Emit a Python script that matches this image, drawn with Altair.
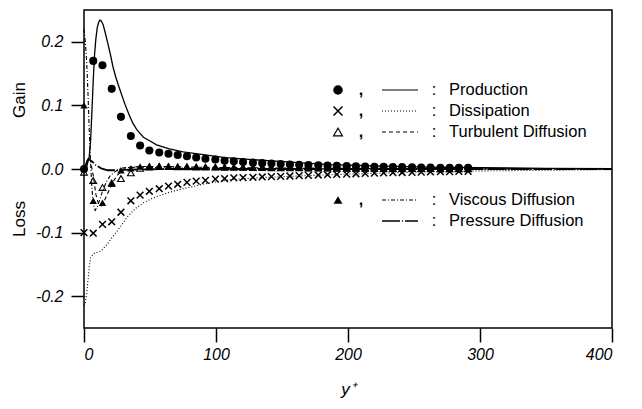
import altair as alt
import pandas as pd

# ---------------- data ----------------
marker_yplus = [0, 7, 14, 21, 28, 35.5, 42.5, 49.5, 57, 64, 71, 78, 85, 92, 99.5, 106.5,
                113.5, 120.5, 128, 135, 142, 149, 156, 163, 170, 177.5, 184.5, 191.5, 199,
                206, 213, 220, 227, 234, 241, 248.5, 255.5, 262.5, 270, 277, 284, 291]

production_pts = [0.0, 0.170, 0.163, 0.126, 0.082, 0.052, 0.037, 0.029, 0.026, 0.024, 0.022,
                  0.020, 0.018, 0.016, 0.015, 0.013, 0.012, 0.011, 0.010, 0.0092, 0.0085,
                  0.0078, 0.0072, 0.0067, 0.0062, 0.0057, 0.0053, 0.0049, 0.0045, 0.0042,
                  0.0039, 0.0036, 0.0033, 0.0031, 0.0029, 0.0027, 0.0025, 0.0023, 0.0021,
                  0.0020, 0.0019, 0.0018]
dissipation_pts = [-0.100, -0.101, -0.087, -0.083, -0.068, -0.050, -0.041, -0.035, -0.031,
                   -0.027, -0.024, -0.021, -0.019, -0.018, -0.016, -0.015, -0.014, -0.0135,
                   -0.013, -0.0125, -0.012, -0.0115, -0.011, -0.0105, -0.010, -0.0095, -0.009,
                   -0.0085, -0.008, -0.0075, -0.007, -0.0066, -0.0062, -0.0058, -0.0055,
                   -0.0052, -0.0049, -0.0046, -0.0043, -0.0041, -0.0039, -0.0037]
turbulent_pts = [-0.005, -0.018, -0.029, -0.022, -0.015, -0.006, 0.001, 0.003, 0.004, 0.004,
                 0.0035, 0.0035, 0.003, 0.003, 0.003, 0.0028, 0.0026, 0.0025, 0.0024, 0.0022,
                 0.002, 0.0019, 0.0018, 0.0017, 0.0016, 0.0015, 0.0014, 0.0013, 0.0012, 0.0011,
                 0.001, 0.001, 0.0009, 0.0008, 0.0008, 0.0007, 0.0006, 0.0006, 0.0005, 0.0005,
                 0.0004, 0.0004]
viscous_pts = [0.100, -0.050, -0.053, -0.023, -0.002, 0.001, 0.004, 0.005, 0.005, 0.0045,
               0.004, 0.004, 0.0035, 0.0035, 0.003, 0.003, 0.003, 0.0028, 0.0026, 0.0024,
               0.0022, 0.002, 0.0019, 0.0018, 0.0017, 0.0016, 0.0015, 0.0014, 0.0013, 0.0012,
               0.0011, 0.001, 0.001, 0.0009, 0.0009, 0.0008, 0.0008, 0.0007, 0.0007, 0.0006,
               0.0006, 0.0005]

production_x = [0, 2, 4, 5, 6, 7, 8, 9, 10, 11, 12, 13, 14.5, 16, 18, 20, 22, 24, 26, 28, 31,
                34, 37, 40, 45, 50, 55, 64, 75, 89, 107, 125, 148, 186, 220, 260, 300, 350, 400]
production_y = [0, 0.003, 0.02, 0.045, 0.09, 0.14, 0.18, 0.205, 0.222, 0.230, 0.234, 0.233,
                0.227, 0.215, 0.198, 0.180, 0.160, 0.145, 0.132, 0.120, 0.102, 0.086, 0.072,
                0.062, 0.050, 0.044, 0.038, 0.032, 0.027, 0.023, 0.018, 0.015, 0.012, 0.007,
                0.005, 0.003, 0.002, 0.001, 0.0005]

dissipation_x = [0, 1, 2, 3, 4, 5, 7, 10, 13, 16, 18, 21.5, 25.7, 33, 39, 45, 52, 64, 75, 90,
                 110, 130, 150, 175, 200, 250, 300, 350, 400]
dissipation_y = [-0.215, -0.21, -0.197, -0.175, -0.153, -0.140, -0.133, -0.131, -0.129, -0.122,
                 -0.117, -0.107, -0.096, -0.075, -0.062, -0.053, -0.046, -0.037, -0.031,
                 -0.024, -0.017, -0.014, -0.012, -0.010, -0.008, -0.005, -0.003, -0.002, -0.001]

turbulent_x = [0, 2, 3.5, 5, 7, 9, 11, 13, 15, 18, 22, 26, 30, 35, 45, 60, 80, 120, 200, 300, 400]
turbulent_y = [0, 0.012, 0.018, 0.012, -0.010, -0.040, -0.055, -0.058, -0.052, -0.038, -0.020,
               -0.008, 0.0, 0.003, 0.004, 0.004, 0.003, 0.002, 0.001, 0.0, 0.0]

viscous_x = [0, 1, 2, 3, 4, 5, 6, 7, 8.5, 10, 12, 14, 17, 20, 25, 30, 40, 60, 100, 200, 400]
viscous_y = [0.22, 0.20, 0.17, 0.12, 0.06, 0.01, -0.03, -0.055, -0.065, -0.060, -0.048, -0.035,
             -0.020, -0.010, -0.002, 0.002, 0.003, 0.002, 0.001, 0.0, 0.0]

pressure_x = [0, 2, 3.5, 6, 9, 13, 18, 25, 35, 60, 400]
pressure_y = [0, 0.010, 0.016, 0.012, 0.006, 0.001, -0.002, -0.002, -0.001, 0.0, 0.0]

legend_labels = ["Production", "Dissipation", "Turbulent Diffusion", "Viscous Diffusion",
                 "Pressure Diffusion"]
x_ticks = [0, 100, 200, 300, 400]
y_ticks = [-0.2, -0.1, 0.0, 0.1, 0.2]

# ---------------- styling ----------------
FONT = "Liberation Sans"
W, H = 528, 318

xs = alt.Scale(domain=[0, 400], nice=False, zero=False)
ys = alt.Scale(domain=[-0.25, 0.25], nice=False, zero=False)
xaxis = alt.Axis(values=x_ticks, title="y\u207a", grid=False, domain=False, tickSize=14,
                 tickWidth=1.5, tickColor="black", labelFont=FONT, labelFontSize=16,
                 labelFontStyle="italic", labelColor="black", labelPadding=4,
                 titleFont=FONT, titleFontSize=17, titleFontStyle="italic",
                 titleFontWeight="normal", titleColor="black", titlePadding=19)
yaxis = alt.Axis(values=y_ticks, title=None, grid=False, domain=False, tickSize=13,
                 tickWidth=1.5, tickColor="black", labelFont=FONT, labelFontSize=16,
                 labelFontStyle="italic", labelColor="black", labelPadding=8,
                 labelExpr="replace(format(datum.value, '.1f'), '\u2212', '-')")


def X():
    return alt.X("x:Q", scale=xs, axis=xaxis)


def Y():
    return alt.Y("y:Q", scale=ys, axis=yaxis)


def line(xv, yv, dash, width=1.2):
    df = pd.DataFrame({"x": xv, "y": yv})
    kw = dict(color="black", strokeWidth=width)
    if dash:
        kw["strokeDash"] = dash
    return alt.Chart(df).mark_line(**kw).encode(x=X(), y=Y(), order="x:Q")


def pts(yv, **mk):
    df = pd.DataFrame({"x": marker_yplus, "y": yv})
    return alt.Chart(df).mark_point(color="black", opacity=1, **mk).encode(x=X(), y=Y())


XSHAPE = "M-1,-1L1,1M-1,1L1,-1"
marker_styles = [
    dict(shape="circle", filled=True, size=65),
    dict(shape=XSHAPE, filled=False, size=45, strokeWidth=1.5),
    dict(shape="triangle-up", filled=False, size=45, strokeWidth=1.1),
    dict(shape="triangle-up", filled=True, size=55),
]
dashes = [None, [1, 2], [4, 3], [4, 2, 1, 2], [18, 2, 1, 2]]

layers = [
    line(production_x, production_y, dashes[0], 1.3),
    line(dissipation_x, dissipation_y, dashes[1], 1.1),
    line(turbulent_x, turbulent_y, dashes[2], 1.1),
    line(viscous_x, viscous_y, dashes[3], 1.1),
    line(pressure_x, pressure_y, dashes[4], 1.8),
    pts(production_pts, **marker_styles[0]),
    pts(dissipation_pts, **marker_styles[1]),
    pts(turbulent_pts, **marker_styles[2]),
    pts(viscous_pts, **marker_styles[3]),
]

# ---------------- legend (drawn by hand, pixel offsets inside the plot) ----------------
row_y = [80, 101, 122, 190, 211]
legend_marker_idx = [0, 1, 2, 3, None]
legend_marker_sizes = [90, 80, 80, 80]
one = pd.DataFrame({"k": [0]})
for i, lab in enumerate(legend_labels):
    yy = row_y[i]
    mi = legend_marker_idx[i]
    if mi is not None:
        st = dict(marker_styles[mi])
        st["size"] = legend_marker_sizes[mi]
        layers.append(alt.Chart(one).mark_point(color="black", opacity=1, **st)
                      .encode(x=alt.value(254), y=alt.value(yy)))
        layers.append(alt.Chart(pd.DataFrame({"t": [","]})).mark_text(
            font=FONT, fontSize=16, fontWeight="bold", color="black", fill="black",
            baseline="middle", align="center")
            .encode(x=alt.value(277), y=alt.value(yy), text="t:N"))
    rk = dict(color="black", strokeWidth=1.2 if i != 4 else 1.6)
    if dashes[i]:
        rk["strokeDash"] = dashes[i]
    layers.append(alt.Chart(one).mark_rule(**rk).encode(
        x=alt.value(298), x2=alt.value(334), y=alt.value(yy)))
    layers.append(alt.Chart(pd.DataFrame({"t": [":"]})).mark_text(
        font=FONT, fontSize=16.5, color="black", baseline="middle", align="center")
        .encode(x=alt.value(350), y=alt.value(yy), text="t:N"))
    layers.append(alt.Chart(pd.DataFrame({"t": [lab]})).mark_text(
        font=FONT, fontSize=16.5, color="black", baseline="middle", align="left")
        .encode(x=alt.value(365), y=alt.value(yy), text="t:N"))

# ---------------- Gain / Loss side labels ----------------
for word, yy in [("Gain", 90), ("Loss", 209)]:
    layers.append(alt.Chart(pd.DataFrame({"t": [word]})).mark_text(
        font=FONT, fontSize=17, color="black", angle=270, baseline="middle", align="center")
        .encode(x=alt.value(-64), y=alt.value(yy), text="t:N"))

chart = alt.layer(*layers).properties(
    width=W, height=H,
    autosize=alt.AutoSizeParams(type="none"),
    padding={"left": 84, "top": 10, "right": 30, "bottom": 81},
    background="white",
).configure_view(stroke="black", strokeWidth=1.5)

chart.save("out.html", embed_options={"renderer": "svg", "actions": False})
